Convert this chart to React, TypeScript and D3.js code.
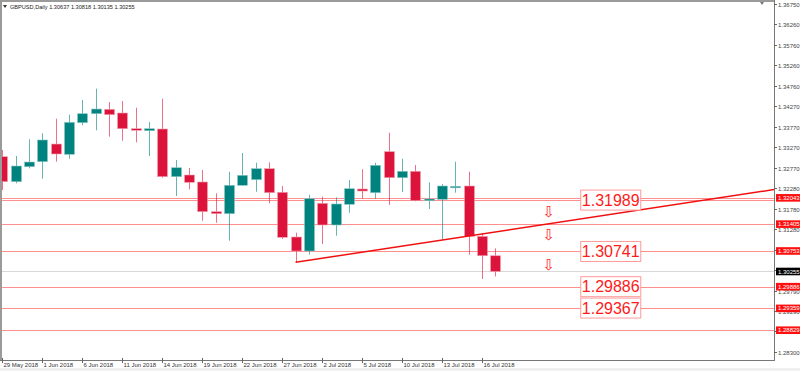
import React, { useRef, useEffect } from 'react';
import * as d3 from 'd3';

// GBPUSD daily candles, 29 May 2018 .. 19 Jul 2018
const OPEN = [1.33042, 1.32435, 1.32799, 1.32921, 1.3335, 1.331, 1.33868, 1.34086, 1.34193, 1.34103, 1.33722, 1.33673, 1.33715, 1.32557, 1.32598, 1.32428, 1.31707, 1.31658, 1.32348, 1.32484, 1.32751, 1.32178, 1.31092, 1.30752, 1.31911, 1.31384, 1.31886, 1.32258, 1.32168, 1.33164, 1.32532, 1.32688, 1.31974, 1.32008, 1.32314, 1.32331, 1.31109, 1.30637];
const HIGH = [1.33205, 1.33059, 1.33465, 1.3361, 1.33965, 1.34062, 1.34419, 1.34693, 1.3437, 1.34395, 1.34232, 1.33885, 1.3445, 1.32962, 1.32768, 1.32719, 1.32153, 1.32678, 1.33132, 1.32896, 1.32906, 1.32331, 1.31197, 1.32119, 1.32071, 1.32056, 1.32476, 1.32736, 1.32896, 1.33625, 1.32994, 1.32841, 1.3242, 1.32379, 1.32921, 1.32678, 1.31182, 1.30818];
const LOW = [1.32234, 1.32396, 1.3276, 1.32508, 1.32921, 1.32994, 1.33805, 1.33683, 1.33528, 1.33431, 1.33392, 1.33059, 1.32532, 1.32088, 1.3225, 1.31488, 1.31439, 1.31002, 1.3234, 1.32192, 1.31911, 1.31044, 1.30478, 1.30663, 1.30922, 1.31124, 1.31682, 1.32022, 1.32022, 1.31869, 1.32185, 1.3196, 1.31772, 1.31019, 1.32168, 1.30663, 1.30072, 1.30135];
const CLOSE = [1.32435, 1.32816, 1.32913, 1.33448, 1.33108, 1.33877, 1.34086, 1.342, 1.34062, 1.33722, 1.33683, 1.33722, 1.32557, 1.32775, 1.3242, 1.31707, 1.31658, 1.32348, 1.3259, 1.32751, 1.32168, 1.31085, 1.30752, 1.32022, 1.31384, 1.31894, 1.32265, 1.32209, 1.32833, 1.32532, 1.32688, 1.31974, 1.32015, 1.32331, 1.32323, 1.31109, 1.30637, 1.30255];

const DATE_LABELS = ['29 May 2018', '1 Jun 2018', '6 Jun 2018', '11 Jun 2018', '14 Jun 2018', '19 Jun 2018', '22 Jun 2018', '27 Jun 2018', '2 Jul 2018', '5 Jul 2018', '10 Jul 2018', '13 Jul 2018', '16 Jul 2018'];
const DATE_STEP = 3;

const PRICE_TICKS = [1.3675, 1.3626, 1.3576, 1.3526, 1.3476, 1.3427, 1.3377, 1.3327, 1.3277, 1.3228, 1.3178, 1.3128, 1.3078, 1.3029, 1.2979, 1.2929, 1.288, 1.283];

const LEVELS = [1.32043, 1.31989, 1.31405, 1.30753, 1.29886, 1.29359, 1.28829];
const LEVEL_TAGS = [1.32043, 1.31405, 1.30753, 1.29886, 1.29359, 1.28829];
const BOX_LABELS = [1.31989, 1.30741, 1.29886, 1.29367];
const ARROW_PRICES = [1.31707, 1.31158, 1.30412];
const TREND_POINTS: [number, number][] = [[22, 1.30478], [33, 1.31019]];
const LAST_PRICE = 1.30255;
const TITLE = 'GBPUSD,Daily  1.30637 1.30818 1.30135 1.30255';

const BULL = '#00827f';
const BEAR = '#dc143c';
const LEVEL_COLOR = '#ff8f8f';

const W = 800;
const H = 371;

export default function App() {
  const svgRef = useRef<SVGSVGElement>(null);

  useEffect(() => {
    if (!svgRef.current) return;
    const svg = d3.select(svgRef.current);
    svg.selectAll('*').remove();

    const left = 2;
    const right = 774;
    const top = 2;
    const bottom = 360;
    const small = '6px';
    const font = 'Liberation Sans, Arial, sans-serif';

    const x = d3.scaleLinear().domain([0, 57.9]).range([2.3, right]);
    const y = d3.scaleLinear().domain([1.283, 1.3675]).range([352, 4]);
    const bodyW = 10;

    svg.append('rect').attr('width', W).attr('height', H).attr('fill', '#fff');
    svg.append('rect').attr('x', 0).attr('y', 368).attr('width', W).attr('height', 3).attr('fill', '#f0f0f0');

    svg.append('defs').append('clipPath').attr('id', 'plot')
      .append('rect').attr('x', left).attr('y', top).attr('width', right - left).attr('height', bottom - top);

    const plot = svg.append('g').attr('clip-path', 'url(#plot)');

    // horizontal levels
    plot.selectAll('.level').data(LEVELS).enter().append('line')
      .attr('x1', left).attr('x2', right)
      .attr('y1', (d) => Math.round(y(d)) + 0.5).attr('y2', (d) => Math.round(y(d)) + 0.5)
      .attr('stroke', LEVEL_COLOR).attr('stroke-width', 1);

    plot.append('line')
      .attr('x1', left).attr('x2', right)
      .attr('y1', Math.round(y(LAST_PRICE)) + 0.5).attr('y2', Math.round(y(LAST_PRICE)) + 0.5)
      .attr('stroke', '#d8d8d8');

    // candles
    const idx = d3.range(OPEN.length);
    plot.selectAll('.wick').data(idx).enter().append('line')
      .attr('x1', (i) => Math.round(x(i)) + 0.5).attr('x2', (i) => Math.round(x(i)) + 0.5)
      .attr('y1', (i) => y(HIGH[i])).attr('y2', (i) => y(LOW[i]))
      .attr('stroke', (i) => (CLOSE[i] >= OPEN[i] ? BULL : BEAR))
      .attr('stroke-opacity', 0.6);

    plot.selectAll('.body').data(idx).enter().append('rect')
      .attr('x', (i) => Math.round(x(i)) - bodyW / 2 + 0.5)
      .attr('y', (i) => y(Math.max(OPEN[i], CLOSE[i])))
      .attr('width', bodyW)
      .attr('height', (i) => Math.max(1.5, Math.abs(y(OPEN[i]) - y(CLOSE[i]))))
      .attr('fill', (i) => (CLOSE[i] >= OPEN[i] ? BULL : BEAR))
      .attr('stroke', (i) => (CLOSE[i] >= OPEN[i] ? '#8cc8c6' : '#f2a0b0'))
      .attr('stroke-width', 0.6);

    // trend line (ray to the right)
    const [[i0, p0], [i1, p1]] = TREND_POINTS;
    const slope = (p1 - p0) / (i1 - i0);
    const iEnd = x.invert(right);
    plot.append('line')
      .attr('x1', x(i0)).attr('y1', y(p0))
      .attr('x2', x(iEnd)).attr('y2', y(p0 + slope * (iEnd - i0)))
      .attr('stroke', '#f01010').attr('stroke-width', 1.5);

    // arrows
    plot.selectAll('.arrow').data(ARROW_PRICES).enter().append('text')
      .attr('x', x(41)).attr('y', (d) => y(d))
      .attr('dy', '0.35em').attr('text-anchor', 'middle')
      .attr('font-family', 'DejaVu Sans, sans-serif').attr('font-size', '15px')
      .attr('fill', '#ff2a2a')
      .text('\u21e9');

    // price boxes
    const boxL = x(43.4);
    const boxW = 60;
    const boxes = plot.selectAll('.box').data(BOX_LABELS).enter().append('g');
    boxes.append('rect')
      .attr('x', boxL).attr('y', (d) => y(d) - 10)
      .attr('width', boxW).attr('height', 20)
      .attr('fill', '#fff').attr('stroke', '#ff9a9a');
    boxes.append('text')
      .attr('x', boxL + boxW / 2).attr('y', (d) => y(d))
      .attr('dy', '0.36em').attr('text-anchor', 'middle')
      .attr('font-family', font).attr('font-size', '16px')
      .attr('fill', '#ff1a1a')
      .text((d) => d.toFixed(5));

    // frame
    svg.append('rect').attr('x', 0).attr('y', 0).attr('width', right).attr('height', 2).attr('fill', '#9a9a9a');
    svg.append('rect').attr('x', 0).attr('y', 0).attr('width', 2).attr('height', bottom).attr('fill', '#9a9a9a');
    svg.append('line').attr('x1', right + 0.5).attr('x2', right + 0.5).attr('y1', 0).attr('y2', bottom + 1)
      .attr('stroke', '#777');
    svg.append('line').attr('x1', 0).attr('x2', right + 1).attr('y1', bottom + 0.5).attr('y2', bottom + 0.5)
      .attr('stroke', '#777');
    svg.append('path').attr('d', `M${right - 14},2 l4,0 l-2,3 z`).attr('fill', '#777');

    // title
    svg.append('path').attr('d', 'M3,5 l4,0 l-2,3 z').attr('fill', '#333');
    svg.append('text').attr('x', 10).attr('y', 8.5)
      .attr('font-family', font).attr('font-size', '5.6px').attr('fill', '#222')
      .text(TITLE);

    // right price axis (tick labels sit under the coloured tags, as in the terminal)
    const yAxis = svg.append('g').attr('font-family', font).attr('font-size', small);
    const ticks = yAxis.selectAll('.tick').data(PRICE_TICKS).enter().append('g')
      .attr('transform', (d) => `translate(${right}, ${Math.round(y(d)) + 0.5})`);
    ticks.append('line').attr('x1', 0).attr('x2', 3).attr('stroke', '#666');
    ticks.append('text').attr('x', 4).attr('dy', '0.35em').attr('fill', '#444')
      .text((d) => d.toFixed(5));

    const tag = (price: number, bg: string) => {
      const g = svg.append('g').attr('transform', `translate(${right + 2}, ${y(price)})`);
      g.append('rect').attr('x', 0).attr('y', -3.8).attr('width', 25).attr('height', 7.6).attr('fill', bg);
      g.append('text').attr('x', 2).attr('dy', '0.35em')
        .attr('font-family', font).attr('font-size', small).attr('fill', '#fff')
        .text(price.toFixed(5));
    };
    LEVEL_TAGS.forEach((p) => tag(p, '#ff1010'));
    tag(LAST_PRICE, '#000');

    // date axis
    const dates = svg.append('g').attr('font-family', font).attr('font-size', small);
    const dt = dates.selectAll('.date').data(DATE_LABELS).enter().append('g')
      .attr('transform', (_d, i) => `translate(${Math.round(x(i * DATE_STEP)) + 0.5}, ${bottom})`);
    dt.append('line').attr('y1', -2).attr('y2', 3).attr('stroke', '#666');
    dt.append('text').attr('x', 1).attr('y', 7).attr('fill', '#333').text((d) => d);
  }, []);

  return (
    <div style={{ position: 'fixed', left: 0, top: 0, width: W, height: H }}>
      <svg ref={svgRef} width={W} height={H} style={{ display: 'block' }} />
    </div>
  );
}
